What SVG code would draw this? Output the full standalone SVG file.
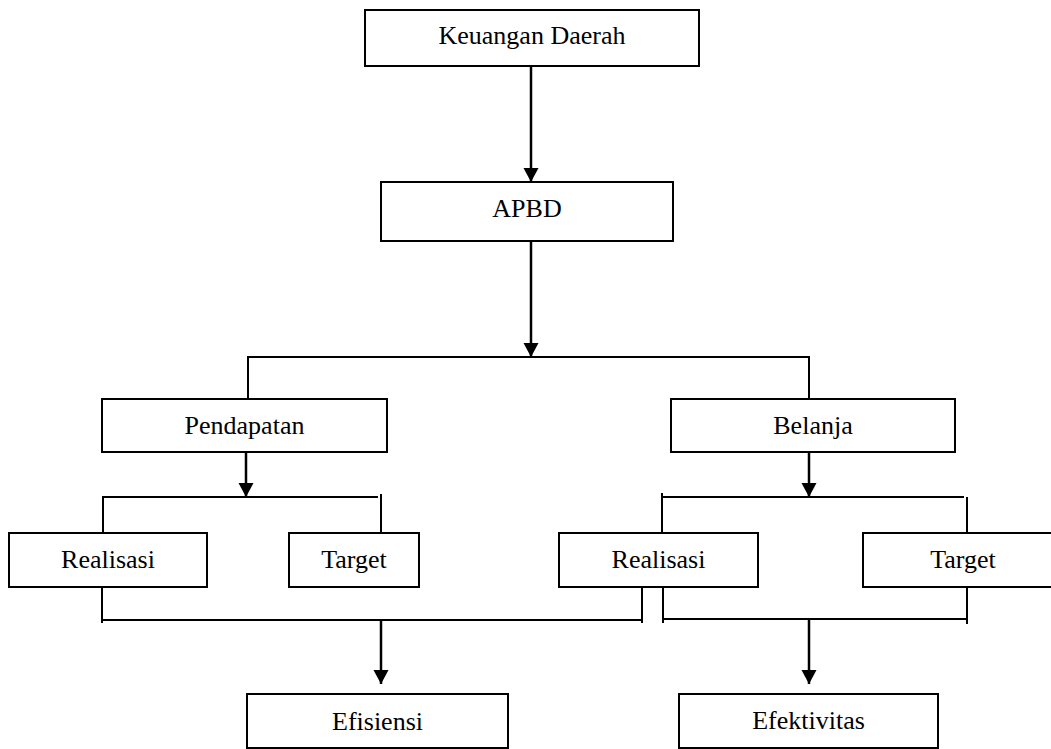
<svg xmlns="http://www.w3.org/2000/svg" width="1051" height="749" viewBox="0 0 1051 749">
<style>
.box{fill:#fff;stroke:#000;stroke-width:2}
.lbl{font-family:"Liberation Serif","Times New Roman",serif;font-size:26px;fill:#000;text-anchor:middle}
.ln{fill:none;stroke:#000;stroke-width:2}
.ar{fill:none;stroke:#000;stroke-width:2.5;marker-end:url(#ah)}
</style>
<defs>
<marker id="ah" markerUnits="userSpaceOnUse" markerWidth="16" markerHeight="16" refX="14" refY="7.5" orient="auto" viewBox="0 0 16 16">
<path d="M0,0 L14,7.5 L0,15 z" fill="#000"/>
</marker>
</defs>
<rect width="1051" height="749" fill="#fff"/>
<g id="connectors">
<line class="ar" x1="531" y1="66" x2="531" y2="182"/>
<line class="ar" x1="531" y1="241" x2="531" y2="357"/>
<path class="ln" d="M248,399 V357 H809 V399"/>
<line class="ar" x1="246" y1="452" x2="246" y2="497"/>
<path class="ln" d="M103,533 V497 H378"/>
<line class="ln" x1="381" y1="494" x2="381" y2="533"/>
<line class="ar" x1="809" y1="452" x2="809" y2="497"/>
<path class="ln" d="M662,533 V493 M662,497 H964"/>
<line class="ln" x1="967" y1="497" x2="967" y2="533"/>
<path class="ln" d="M102,582 V623 M102,620 H641 M642,582 V623"/>
<line class="ar" x1="381" y1="620" x2="381" y2="684"/>
<path class="ln" d="M663,587 V623 M663,619 H967 M967,587 V624"/>
<line class="ar" x1="809" y1="619" x2="809" y2="684"/>
</g>
<g id="keuangan"><rect class="box" x="365" y="10" width="334" height="56"/><text class="lbl" x="532" y="44">Keuangan Daerah</text></g>
<g id="apbd"><rect class="box" x="381" y="182" width="292" height="59"/><text class="lbl" x="527" y="217">APBD</text></g>
<g id="pendapatan"><rect class="box" x="102" y="399" width="285" height="53"/><text class="lbl" x="244.5" y="434">Pendapatan</text></g>
<g id="belanja"><rect class="box" x="671" y="399" width="284" height="53"/><text class="lbl" x="813" y="434">Belanja</text></g>
<g id="realisasi1"><rect class="box" x="9" y="533" width="198" height="54"/><text class="lbl" x="108" y="568">Realisasi</text></g>
<g id="target1"><rect class="box" x="289" y="533" width="130" height="54"/><text class="lbl" x="354" y="568">Target</text></g>
<g id="realisasi2"><rect class="box" x="559" y="533" width="199" height="54"/><text class="lbl" x="658.5" y="568">Realisasi</text></g>
<g id="target2"><rect class="box" x="863" y="533" width="200" height="54"/><text class="lbl" x="963" y="568">Target</text></g>
<g id="efisiensi"><rect class="box" x="247" y="694" width="261" height="54"/><text class="lbl" x="377.5" y="730">Efisiensi</text></g>
<g id="efektivitas"><rect class="box" x="679" y="694" width="259" height="54"/><text class="lbl" x="808.5" y="729">Efektivitas</text></g>
</svg>
